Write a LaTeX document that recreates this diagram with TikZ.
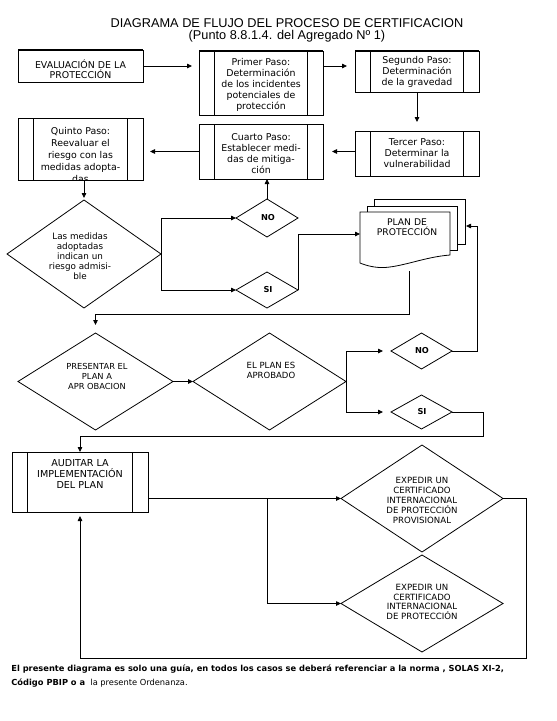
\documentclass[tikz,border=0pt]{standalone}
\usepackage{fontspec}
\setmainfont{DejaVu Sans}
\newfontfamily\titlefont{Liberation Sans}
\usetikzlibrary{arrows.meta,shapes.geometric}
\begin{document}
\begin{tikzpicture}[x=1pt,y=-1pt,line width=0.8pt,
  arr/.style={-{Triangle[length=5pt,width=4.5pt]}},
  rbox/.style={draw,rectangle,inner sep=0pt,outer sep=0pt},
  procbox/.style={rbox,path picture={
     \draw ([xshift=15.5pt]path picture bounding box.north west) -- ([xshift=15.5pt]path picture bounding box.south west);
     \draw ([xshift=-15.5pt]path picture bounding box.north east) -- ([xshift=-15.5pt]path picture bounding box.south east);}},
  dia/.style={draw,diamond,inner sep=0pt,outer sep=0pt},
  txt/.style={align=center,inner sep=0pt,font=\fontsize{9.4}{10.9}\selectfont},
  yesno/.style={inner sep=0pt,font=\bfseries\fontsize{8.2}{9}\selectfont},
  topedge/.style={line width=1.6pt}]
\useasboundingbox (0,0) rectangle (557,721);
\fill[white] (0,0) rectangle (557,721);

% title
\node[align=center,inner sep=0pt,font=\titlefont\fontsize{12.75}{12.5}\selectfont] (title) at (287,30.5)
  {DIAGRAMA DE FLUJO DEL PROCESO DE CERTIFICACION\\(Punto 8.8.1.4. del Agregado Nº 1)};

% boxes
\node[rbox,minimum width=125pt,minimum height=32pt] (eval) at (80.5,66) {};
\draw[topedge] (eval.north west) -- (eval.north east);
\node[txt,font=\fontsize{9.4}{9.8}\selectfont] (evalt) at (80.5,69.5) {EVALUACIÓN DE LA\\PROTECCIÓN};

\node[procbox,minimum width=124pt,minimum height=64pt] (p1) at (261,83) {};
\draw[topedge] (p1.north west) -- (p1.north east);
\node[txt] (p1t) at (261,85) {Primer Paso:\\Determinación\\de los incidentes\\potenciales de\\protección};

\node[procbox,minimum width=124pt,minimum height=41pt] (p2) at (417,71.5) {};
\draw[topedge] (p2.north west) -- (p2.north east);
\node[txt] (p2t) at (417,72) {Segundo Paso:\\Determinación\\de la gravedad};

\node[procbox,minimum width=124pt,minimum height=45pt] (p3) at (417,153.5) {};
\node[txt] (p3t) at (417,153) {Tercer Paso:\\Determinar la\\vulnerabilidad};

\node[procbox,minimum width=124pt,minimum height=55pt] (p4) at (261,151.5) {};
\node[txt] (p4t) at (261,153.5) {Cuarto Paso:\\Establecer medi-\\das de mitiga-\\ción};

\node[procbox,minimum width=125pt,minimum height=62pt] (p5) at (80.5,149) {};
\begin{scope}
  \clip (p5.north west) rectangle (p5.south east);
  \node[txt,font=\fontsize{9.4}{12}\selectfont] (p5t) at (80.5,155.3) {Quinto Paso:\\Reevaluar el\\riesgo con las\\medidas adopta-\\das};
\end{scope}

\draw[arr,shorten >=7pt] (eval.east) -- (eval.east -| p1.west);
\draw[arr,shorten >=8pt] (p1.east |- eval.east) -- (eval.east -| p2.west);
\draw[arr,shorten >=9pt] (p2.south) -- (p3.north);
\draw[arr,shorten >=9pt] (p3.west |- p4.east) -- (p4.east);
\draw[arr,shorten >=7pt] (p4.west) -- (p4.west -| p5.east);

% first decision
\node[dia,minimum width=154pt,minimum height=108pt] (dec) at (84,254) {};
\node[txt,font=\fontsize{8.8}{10}\selectfont] (dect) at (80,256) {Las medidas\\adoptadas\\indican un\\riesgo admisi-\\ble};
\draw[arr,shorten >=2pt] (p5.south -| dec.north) -- (dec.north);

\node[dia,minimum width=62pt,minimum height=38pt] (no1) at (267,218) {};
\node[yesno] (no1t) at (268,218) {NO};
\node[dia,minimum width=62pt,minimum height=36pt] (si1) at (267,290) {};
\node[yesno] (si1t) at (268,290) {SI};
\draw[arr] (dec.east) |- (no1.west);
\draw[arr] (dec.east) |- (si1.west);
\draw[arr] (no1.north) -- (p4.south -| no1.north);

% plan de proteccion (document stack)
\filldraw[fill=white] (374,199) rectangle (465,244);
\filldraw[fill=white] (367,206) rectangle (457,250);
\filldraw[fill=white] (360,212) -- (450,212) -- (450,255)
  .. controls (425,257) and (405,266) .. (385,267.5)
  .. controls (375,268) and (366,265.5) .. (360,263) -- cycle;
\node[txt,font=\fontsize{9.2}{10}\selectfont] (plant) at (407,227) {PLAN DE\\PROTECCIÓN};
\coordinate (planin) at (360,234);
\coordinate (plout) at (409,271);
\coordinate (planr) at (466,226);
\draw[arr] (si1.east) |- (planin);

% presentar / aprobado
\node[dia,minimum width=155pt,minimum height=97pt] (pres) at (95.5,381.5) {};
\node[txt,font=\fontsize{8.3}{10}\selectfont] (prest) at (97,376) {PRESENTAR EL\\PLAN A\\APR OBACION};
\draw[arr] (plout) |- ([yshift=19pt]pres.north) -- ([yshift=8pt]pres.north);

\node[dia,minimum width=153pt,minimum height=97pt] (apr) at (269.5,381.5) {};
\node[txt,font=\fontsize{8.5}{10}\selectfont] (aprt) at (271,370.5) {EL PLAN ES\\APROBADO};
\draw[arr,line width=1.3pt] (pres.east) -- (apr.west);

\node[dia,minimum width=61pt,minimum height=36pt] (no2) at (421.5,351) {};
\node[yesno] (no2t) at (422,351) {NO};
\node[dia,minimum width=61pt,minimum height=34pt] (si2) at (421.5,412) {};
\node[yesno] (si2t) at (422,412) {SI};
\draw[arr,shorten >=8pt] (apr.east) |- (no2.west);
\draw[arr,shorten >=8pt] (apr.east) |- (si2.west);
\draw[arr] (no2.east) -- ++(25,0) |- (planr);

% auditar
\node[procbox,minimum width=136pt,minimum height=60pt] (aud) at (80,482) {};
\node[txt,font=\fontsize{9.6}{10.6}\selectfont] (audt) at (80,474) {AUDITAR LA\\IMPLEMENTACIÓN\\DEL PLAN};
\draw[arr] (si2.east) -- ++(31,0) |- ([yshift=16pt]aud.north) -- (aud.north);

% certificates
\node[dia,minimum width=162pt,minimum height=107pt] (prov) at (422,498.5) {};
\node[txt,font=\fontsize{8.6}{9.8}\selectfont] (provt) at (422,500.5) {EXPEDIR UN\\CERTIFICADO\\INTERNACIONAL\\DE PROTECCIÓN\\PROVISIONAL};
\node[dia,minimum width=162pt,minimum height=97pt] (cert) at (422,603.5) {};
\node[txt,font=\fontsize{8.6}{9.8}\selectfont] (certt) at (422,602) {EXPEDIR UN\\CERTIFICADO\\INTERNACIONAL\\DE PROTECCIÓN};
\coordinate (br) at (267,498.5);
\draw[arr] (aud.east |- prov.west) -- (prov.west);
\draw[arr] (br) |- (cert.west);
\draw[arr,shorten >=4pt] (prov.east) -- ++(23,0) |- ([yshift=-146pt]aud.south) -- (aud.south);

% footer
\node[anchor=base west,inner sep=0pt,font=\bfseries\fontsize{8.3}{14}\selectfont] (foot1) at (11,671)
  {El presente diagrama es solo una guía, en todos los casos se deberá referenciar a la norma , SOLAS XI-2,};
\node[anchor=base west,inner sep=0pt,font=\fontsize{8.3}{14}\selectfont] (foot2) at (11,685)
  {\textbf{Código PBIP o a}\ \ la presente Ordenanza.};
\end{tikzpicture}
\end{document}
